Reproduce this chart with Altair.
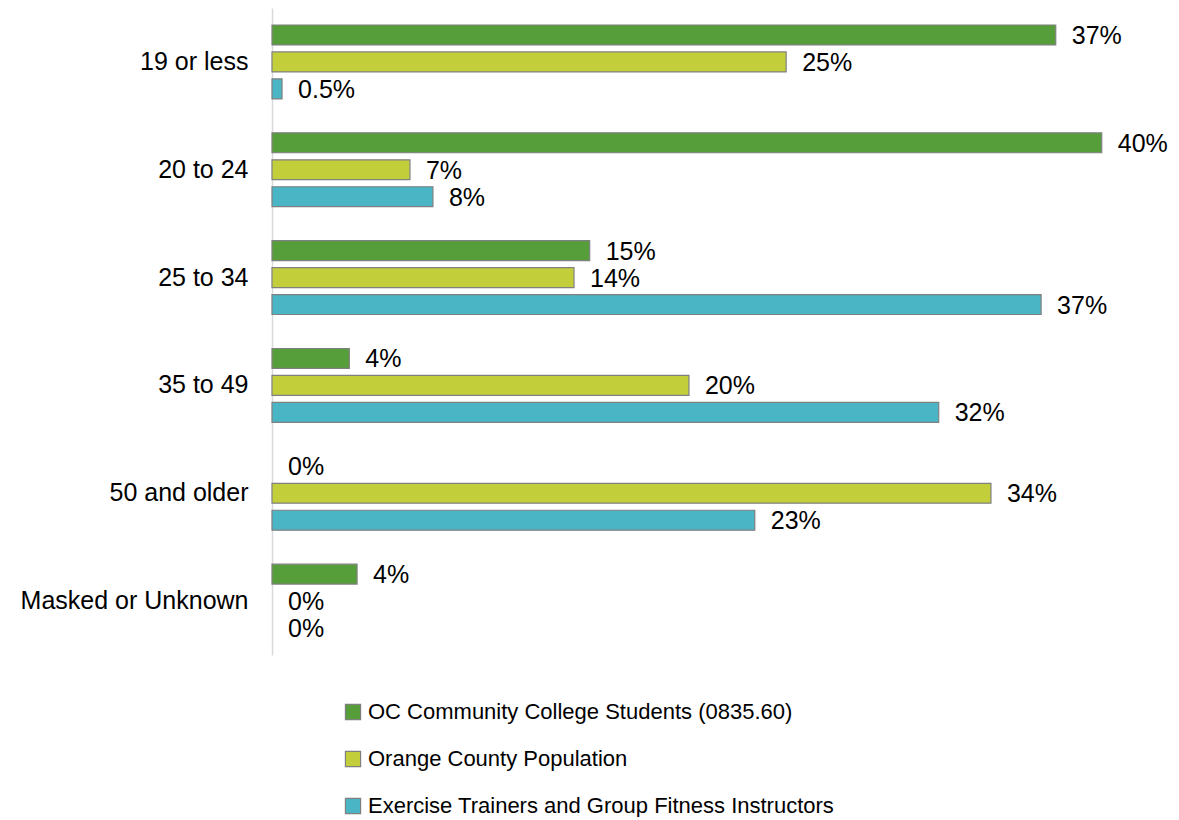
import altair as alt
import pandas as pd

categories = ["19 or less", "20 to 24", "25 to 34", "35 to 49", "50 and older", "Masked or Unknown"]
series = [
    "OC Community College Students (0835.60)",
    "Orange County Population",
    "Exercise Trainers and Group Fitness Instructors",
]
students = [0.375, 0.397, 0.152, 0.037, 0.0, 0.0407]
population = [0.246, 0.066, 0.1445, 0.1995, 0.344, 0.0]
trainers = [0.0048, 0.077, 0.368, 0.319, 0.231, 0.0]
students_labels = ["37%", "40%", "15%", "4%", "0%", "4%"]
population_labels = ["25%", "7%", "14%", "20%", "34%", "0%"]
trainers_labels = ["0.5%", "8%", "37%", "32%", "23%", "0%"]
colors = ["#559E39", "#C3CF3A", "#4AB5C5"]

rows = []
for vals, labs, s in [(students, students_labels, series[0]),
                      (population, population_labels, series[1]),
                      (trainers, trainers_labels, series[2])]:
    for c, v, l in zip(categories, vals, labs):
        rows.append({"category": c, "series": s, "value": v, "label": l})
df = pd.DataFrame(rows)

FONT = "Liberation Sans"

y_enc = alt.Y("category:N", sort=categories, scale=alt.Scale(paddingInner=0, paddingOuter=0),
              axis=alt.Axis(title=None, ticks=False, labelFontSize=25, labelFont=FONT,
                            labelColor="#000000", labelPadding=24, labelLimit=400,
                            domainColor="#D9D9D9", domainWidth=1.5,
                            minExtent=264, maxExtent=264))
yoff = alt.YOffset("series:N", sort=series,
                   scale=alt.Scale(domain=series, paddingInner=0.26, paddingOuter=0.63))
x_enc = alt.X("value:Q", scale=alt.Scale(domain=[0, 0.4], nice=False), axis=None)

bars = alt.Chart(df).transform_filter(alt.datum.value > 0).mark_bar(
    stroke="#808080", strokeWidth=1.2
).encode(
    x=x_enc,
    y=y_enc,
    yOffset=yoff,
    color=alt.Color("series:N", sort=series,
                    scale=alt.Scale(domain=series, range=colors),
                    legend=alt.Legend(title=None, orient="none", legendX=70, legendY=693,
                                      direction="vertical", symbolType="square",
                                      symbolSize=230, symbolStrokeColor="#808080",
                                      symbolStrokeWidth=1.2, labelFontSize=22,
                                      labelFont=FONT, labelColor="#000000",
                                      labelOffset=4, rowPadding=25, padding=0,
                                      labelLimit=800)),
)

labels = alt.Chart(df).mark_text(align="left", baseline="middle", dx=16, dy=1, fontSize=25,
                                 font=FONT, color="#000000").encode(
    x=x_enc,
    y=alt.Y("category:N", sort=categories),
    yOffset=yoff,
    text="label:N",
)

chart = (bars + labels).properties(width=836, height=647, padding=0).configure_view(stroke=None)

chart.save("out.html", embed_options={"renderer": "svg", "actions": False})
